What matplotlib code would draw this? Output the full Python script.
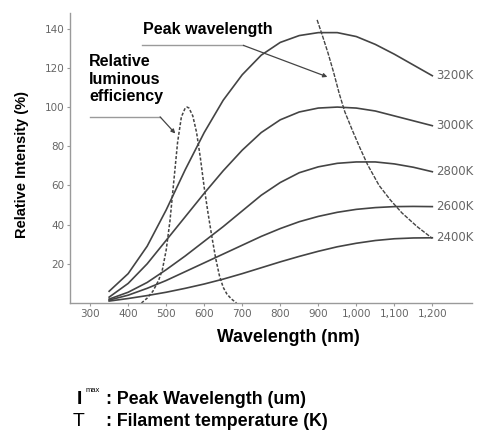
import matplotlib
matplotlib.use("Agg")
import matplotlib.pyplot as plt

plt.rcParams['font.family'] = ['Liberation Sans', 'DejaVu Sans']

# wavelength grid (nm) used for the filament curves
wl = [350, 400, 450, 500, 550, 600, 650, 700, 750, 800, 850, 900,
      950, 1000, 1050, 1100, 1150, 1200]

# relative intensity (%)
curves = {
    "3200K": [6, 15, 29, 47.5, 68, 87, 103.5, 116.5, 126.5, 133, 136.5, 138,
              138, 136, 132, 127, 121.5, 116],
    "3000K": [3, 10, 20, 32, 44, 56, 67.5, 78, 87, 93.5, 97.5, 99.5,
              100, 99.5, 98, 95.5, 93, 90.5],
    "2800K": [2, 5.5, 10.5, 17, 24, 31.5, 39, 47, 55, 61.5, 66.5, 69.5,
              71.3, 72, 72, 71, 69.3, 67],
    "2600K": [1.5, 4, 7.5, 11.5, 16, 20.5, 25, 29.5, 34, 38, 41.5, 44.2,
              46.3, 47.8, 48.7, 49.2, 49.3, 49.2],
    "2400K": [1, 2.3, 3.8, 5.5, 7.5, 9.7, 12.2, 15, 18, 21, 23.8, 26.4,
              28.7, 30.5, 31.9, 32.8, 33.2, 33.3],
}

# relative luminous efficiency (dashed)
lum_wl = [435, 450, 465, 480, 490, 500, 510, 520, 530, 540, 550, 555,
          560, 570, 580, 590, 600, 610, 620, 630, 640, 650, 660, 672, 685]
lum_val = [0, 2.5, 6, 11.5, 17, 27, 42, 62, 82, 95, 99.5, 100,
           99.5, 95.5, 87, 74, 59, 46, 34, 23, 14, 8, 4.5, 2, 0]

# locus of peak wavelength (dashed)
peak_wl = [897, 910, 925, 940, 955, 970, 990, 1010, 1030, 1060, 1090,
           1120, 1160, 1200]
peak_val = [144.5, 137, 128, 118, 107, 97.5, 88, 79, 70.5, 60, 52.5,
            46, 39, 33]

xticks = [300, 400, 500, 600, 700, 800, 900, 1000, 1100, 1200]
xticklabels = ["300", "400", "500", "600", "700", "800", "900",
               "1,000", "1,100", "1,200"]
yticks = [20, 40, 60, 80, 100, 120, 140]

line_col = "#444444"
axis_col = "#9a9a9a"
tick_col = "#666666"

fig = plt.figure(figsize=(4.87, 4.30), dpi=100)
ax = fig.add_axes([0.1437, 0.2953, 0.826, 0.6744])

for name, vals in curves.items():
    ax.plot(wl, vals, color=line_col, lw=1.2)
    ax.annotate(name, (wl[-1], vals[-1]), xytext=(3, 0),
                textcoords="offset points", va="center", ha="left",
                fontsize=8.5, color=tick_col, family="DejaVu Sans")

ax.plot(lum_wl, lum_val, color=line_col, lw=1.1, ls=(0, (2, 1.2)))
ax.plot(peak_wl, peak_val, color=line_col, lw=1.0, ls=(0, (3, 1)))

# leader for "Peak wavelength"
ax.plot([437, 703], [131.5, 131.5], color=axis_col, lw=1.0)
ax.annotate("", xy=(924, 115.4), xytext=(703, 131.5),
            arrowprops=dict(arrowstyle="-|>", color=line_col, lw=0.9,
                            mutation_scale=6, shrinkA=0, shrinkB=0))
ax.text(610, 139.5, "Peak wavelength", fontsize=11.5, fontweight="bold",
        ha="center", va="center")

# leader for "Relative luminous efficiency"
ax.plot([300, 484], [95, 95], color=axis_col, lw=1.0)
ax.annotate("", xy=(524, 86.5), xytext=(484, 95),
            arrowprops=dict(arrowstyle="-|>", color=line_col, lw=0.9,
                            mutation_scale=6, shrinkA=0, shrinkB=0))
ax.text(297, 127, "Relative\nluminous\nefficiency", fontsize=11.5,
        fontweight="bold", ha="left", va="top", linespacing=1.22)

ax.set_xlim(247, 1305)
ax.set_ylim(0, 148)
ax.set_xticks(xticks)
ax.set_xticklabels(xticklabels)
ax.set_yticks(yticks)
ax.tick_params(axis="both", colors=axis_col, labelcolor=tick_col,
               labelsize=7.5, length=2, width=0.8, pad=2)
for lab in ax.get_xticklabels() + ax.get_yticklabels():
    lab.set_family("DejaVu Sans")
for s in ["top", "right"]:
    ax.spines[s].set_visible(False)
for s in ["left", "bottom"]:
    ax.spines[s].set_color(axis_col)
    ax.spines[s].set_linewidth(1.0)

fig.text(22 / 487, 1 - 165 / 430, "Relative Intensity (%)", rotation=90,
         ha="center", va="center", fontsize=10.5, fontweight="bold")
fig.text(288 / 487, 1 - 337 / 430, "Wavelength (nm)", ha="center",
         va="center", fontsize=12.8, fontweight="bold")

fig.text(77 / 487, 1 - 399 / 430, "I", ha="left", va="center",
         fontsize=14, fontweight="bold")
fig.text(86 / 487, 1 - 390 / 430, "max", ha="left", va="center",
         fontsize=5.5)
fig.text(106 / 487, 1 - 400 / 430, ": Peak Wavelength (um)", ha="left",
         va="center", fontsize=12.8, fontweight="bold")
fig.text(73 / 487, 1 - 421 / 430, "T", ha="left", va="center",
         fontsize=14)
fig.text(106 / 487, 1 - 422 / 430, ": Filament temperature (K)", ha="left",
         va="center", fontsize=12.8, fontweight="bold")

fig.savefig("out.png", dpi=100, facecolor="white")
